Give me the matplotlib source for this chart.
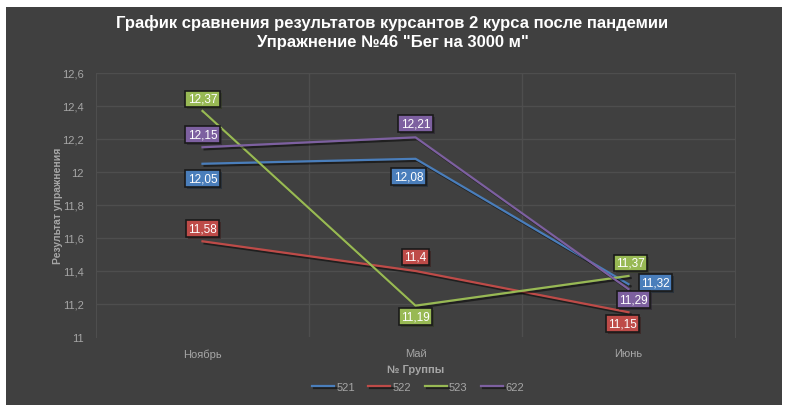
import matplotlib.pyplot as plt
import matplotlib.patheffects as pe
from matplotlib.patches import Rectangle

plt.rcParams['font.family'] = ['Liberation Sans', 'DejaVu Sans']

# данные
months = ['Ноябрь', 'Май', 'Июнь']
groups = ['521', '522', '523', '622']
v521 = [12.05, 12.08, 11.32]
v522 = [11.58, 11.4, 11.15]
v523 = [12.37, 11.19, 11.37]
v622 = [12.15, 12.21, 11.29]
series = [v521, v522, v523, v622]
yticks = [11, 11.2, 11.4, 11.6, 11.8, 12, 12.2, 12.4, 12.6]

colors = ['#4a7ebb', '#be4b48', '#98b954', '#7d60a0']
# смещения подписей (пиксели)
offs = [
    [(0, -15), (-7, -18), (27, 2)],
    [(0, 13), (0, 14), (-6, -11)],
    [(0, 12), (0, -11), (2, 13)],
    [(0, 13), (0, 14), (5, -10)],
]

bg = '#404040'
fig = plt.figure(figsize=(7.85, 4.06), dpi=100)
fig.patch.set_facecolor('white')
fig.patches.append(Rectangle((6 / 785, 0), 776 / 785, 398 / 406, transform=fig.transFigure,
                             facecolor=bg, edgecolor='none', zorder=-10))
ax = fig.add_axes([96 / 785, 1 - 338 / 406, 639 / 785, 264 / 406])
ax.set_facecolor(bg)

x = list(range(len(months)))
shadow = [pe.SimpleLineShadow(offset=(1.5, -1.5), shadow_color='black', alpha=0.5), pe.Normal()]
for vals, c, g, off in zip(series, colors, groups, offs):
    ax.plot(x, vals, color=c, lw=1.6, label=g, path_effects=shadow, zorder=3)
    for xi, v, o in zip(x, vals, off):
        t = ax.annotate(f'{v:g}'.replace('.', ','), (xi, v), xytext=(o[0] * 0.72, o[1] * 0.72),
                        textcoords='offset points', ha='center', va='center', color='white',
                        fontsize=8.5, zorder=5,
                        bbox=dict(boxstyle='square,pad=0.2', fc=c, ec='#1a1a1a', lw=1.2))
        t.get_bbox_patch().set_path_effects([pe.SimplePatchShadow(offset=(1.5, -1.5), alpha=0.5), pe.Normal()])

ax.set_xlim(-0.5, 2.5)
ax.set_ylim(11, 12.6)
ax.set_yticks(yticks)
ax.set_yticklabels([f'{v:g}'.replace('.', ',') for v in yticks])
ax.set_xticks(x)
ax.set_xticklabels(months)
ax.set_xticks([0.5, 1.5], minor=True)
ax.grid(True, which='minor', axis='x', color='#4e4e4e', lw=1)
ax.grid(True, which='major', axis='y', color='#4e4e4e', lw=1)
ax.yaxis.get_gridlines()[0].set_visible(False)
ax.tick_params(which='both', length=0, colors='#a6a6a6', labelsize=8)
ax.tick_params(axis='x', pad=8)
ax.tick_params(axis='y', pad=9)
for s in ['left', 'right', 'top']:
    ax.spines[s].set_color('#4e4e4e')
ax.spines['bottom'].set_visible(False)

ax.set_xlabel('№ Группы', color='#a6a6a6', fontsize=8, fontweight='bold', labelpad=4)
ax.set_ylabel('Результат упражнения', color='#a6a6a6', fontsize=7.5, fontweight='bold')
ax.yaxis.set_label_coords(-0.052, 0.5)

fig.text(0.5, 1 - 23 / 406, 'График сравнения результатов курсантов 2 курса после пандемии',
         ha='center', va='center', color='white', fontsize=12, fontweight='bold')
fig.text(0.5, 1 - 43 / 406, 'Упражнение №46 "Бег на 3000 м"',
         ha='center', va='center', color='white', fontsize=12, fontweight='bold')

leg = fig.legend(loc='center', bbox_to_anchor=(418 / 785, 1 - 388 / 406), ncol=4, frameon=False,
                 fontsize=8, handlelength=2, handletextpad=0.2, columnspacing=1.2)
for t in leg.get_texts():
    t.set_color('#a6a6a6')

fig.savefig('out.png', dpi=100, facecolor=fig.get_facecolor())
